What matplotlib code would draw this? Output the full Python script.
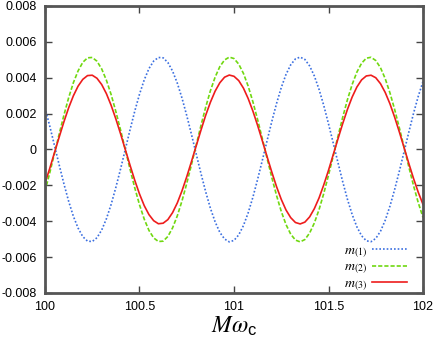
import numpy as np
import matplotlib
matplotlib.use('Agg')
import matplotlib.pyplot as plt

# x grid (M omega_c) from 100 to 102 in steps of 0.025
x = np.linspace(100, 102, 81)

m1 = [0.00233, 0.00131, 0.00023, -0.00086, -0.00191, -0.00288, -0.00372, -0.00438, -0.00486, -0.00511,
      -0.00513, -0.00492, -0.00449, -0.00386, -0.00306, -0.00211, -0.00108, 0.00001, 0.00110, 0.00214,
      0.00308, 0.00388, 0.00451, 0.00493, 0.00513, 0.00511, 0.00485, 0.00437, 0.00370, 0.00286,
      0.00189, 0.00084, -0.00025, -0.00133, -0.00235, -0.00327, -0.00403, -0.00462, -0.00499, -0.00515,
      -0.00507, -0.00476, -0.00424, -0.00353, -0.00266, -0.00166, -0.00060, 0.00049, 0.00156, 0.00256,
      0.00345, 0.00418, 0.00472, 0.00505, 0.00515, 0.00502, 0.00466, 0.00410, 0.00335, 0.00245,
      0.00143, 0.00036, -0.00073, -0.00179, -0.00277, -0.00362, -0.00431, -0.00481, -0.00509, -0.00514,
      -0.00496, -0.00456, -0.00395, -0.00316, -0.00223, -0.00120, -0.00012, 0.00097, 0.00202, 0.00297,
      0.00379]

m2 = [-0.00233, -0.00131, -0.00023, 0.00086, 0.00191, 0.00288, 0.00372, 0.00438, 0.00486, 0.00511,
      0.00513, 0.00492, 0.00449, 0.00386, 0.00306, 0.00211, 0.00108, -0.00001, -0.00110, -0.00214,
      -0.00308, -0.00388, -0.00451, -0.00493, -0.00513, -0.00511, -0.00485, -0.00437, -0.00370, -0.00286,
      -0.00189, -0.00084, 0.00025, 0.00133, 0.00235, 0.00327, 0.00403, 0.00462, 0.00499, 0.00515,
      0.00507, 0.00476, 0.00424, 0.00353, 0.00266, 0.00166, 0.00060, -0.00049, -0.00156, -0.00256,
      -0.00345, -0.00418, -0.00472, -0.00505, -0.00515, -0.00502, -0.00466, -0.00410, -0.00335, -0.00245,
      -0.00143, -0.00036, 0.00073, 0.00179, 0.00277, 0.00362, 0.00431, 0.00481, 0.00509, 0.00514,
      0.00496, 0.00456, 0.00395, 0.00316, 0.00223, 0.00120, 0.00012, -0.00097, -0.00202, -0.00297,
      -0.00379]

m3 = [-0.00188, -0.00106, -0.00018, 0.00069, 0.00154, 0.00232, 0.00299, 0.00353, 0.00391, 0.00412,
      0.00414, 0.00397, 0.00362, 0.00311, 0.00246, 0.00170, 0.00087, -0.00001, -0.00088, -0.00172,
      -0.00248, -0.00313, -0.00363, -0.00397, -0.00414, -0.00411, -0.00391, -0.00352, -0.00298, -0.00230,
      -0.00152, -0.00067, 0.00020, 0.00107, 0.00190, 0.00263, 0.00325, 0.00372, 0.00403, 0.00415,
      0.00408, 0.00384, 0.00342, 0.00284, 0.00214, 0.00134, 0.00048, -0.00040, -0.00126, -0.00207,
      -0.00278, -0.00337, -0.00380, -0.00407, -0.00415, -0.00405, -0.00376, -0.00330, -0.00270, -0.00197,
      -0.00116, -0.00029, 0.00059, 0.00144, 0.00223, 0.00292, 0.00348, 0.00388, 0.00410, 0.00414,
      0.00400, 0.00367, 0.00318, 0.00255, 0.00180, 0.00097, 0.00010, -0.00078, -0.00162, -0.00239,
      -0.00306]

xticks = [100, 100.5, 101, 101.5, 102]
xticklabels = ['100', '100.5', '101', '101.5', '102']
yticks = [-0.008, -0.006, -0.004, -0.002, 0, 0.002, 0.004, 0.006, 0.008]
yticklabels = ['-0.008', '-0.006', '-0.004', '-0.002', '0', '0.002', '0.004', '0.006', '0.008']

plt.rcParams['font.family'] = 'Liberation Sans'
plt.rcParams['mathtext.fontset'] = 'stix'

fig = plt.figure(figsize=(4.36, 3.42), dpi=100)
ax = fig.add_axes([0.1032, 0.1433, 0.867, 0.8392])

ax.plot(x, m1, color='#3b6fe0', linestyle=(0, (1, 1.2)), linewidth=1.2, label=r'$m_{(1)}$')
ax.plot(x, m2, color='#70d810', linestyle=(0, (2.5, 1.2)), linewidth=1.2, label=r'$m_{(2)}$')
ax.plot(x, m3, color='#ee1c1c', linestyle='-', linewidth=1.2, label=r'$m_{(3)}$')

ax.set_xlim(100, 102)
ax.set_ylim(-0.008, 0.008)
ax.set_xticks(xticks)
ax.set_xticklabels(xticklabels)
ax.set_yticks(yticks)
ax.set_yticklabels(yticklabels)
ax.tick_params(direction='in', length=5, width=1, color='#444444', labelsize=9,
               top=True, right=True, pad=6)

for s in ax.spines.values():
    s.set_color('#555555')
    s.set_linewidth(2)

ax.set_xlabel(r'$M\omega_{\mathregular{c}}$', fontsize=17, labelpad=1)

leg = ax.legend(loc='lower right', frameon=False, markerfirst=False, fontsize=10,
                handlelength=2.5, handletextpad=0.4, labelspacing=0.0,
                borderpad=0, borderaxespad=0, bbox_to_anchor=(0.958, 0.0))

fig.savefig('out.png', dpi=100)
